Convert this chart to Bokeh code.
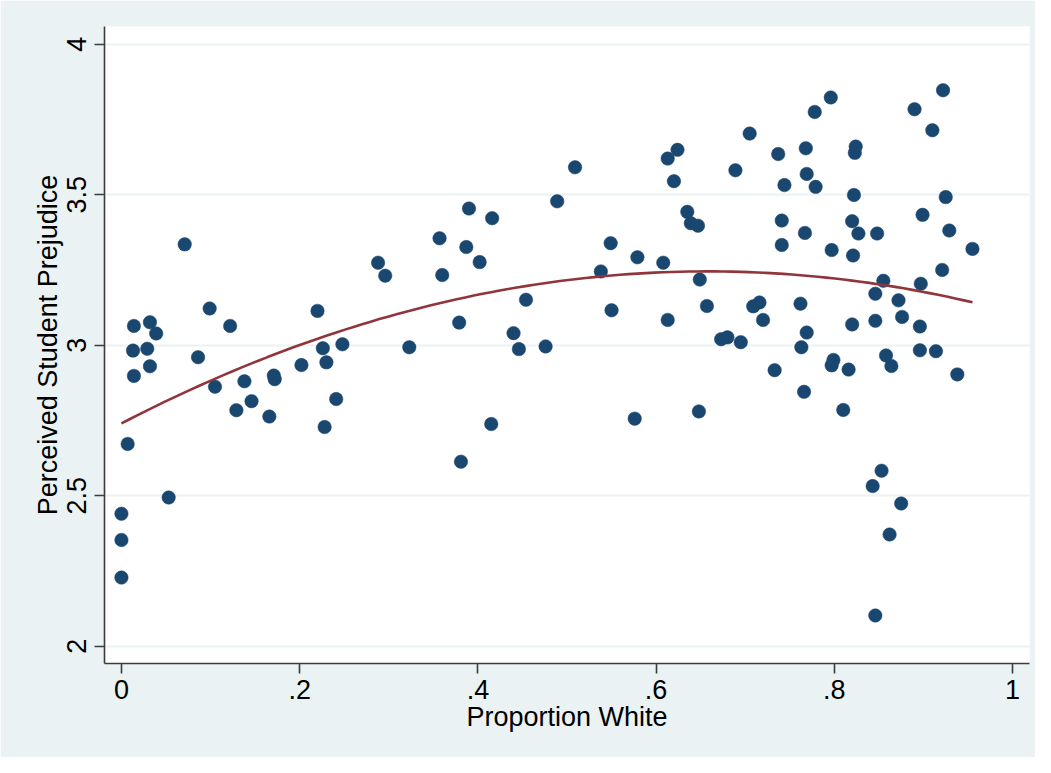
import numpy as np
from bokeh.plotting import figure
from bokeh.models import FixedTicker, Range1d
from bokeh.embed import file_html
from bokeh.resources import INLINE

# Data
prop_white = [
    0.000, 0.000, 0.000, 0.007, 0.013, 0.014, 0.014, 0.029, 0.032, 0.032,
    0.039, 0.053, 0.071, 0.086, 0.099, 0.105, 0.122, 0.129, 0.138, 0.146,
    0.166, 0.171, 0.172, 0.202, 0.220, 0.226, 0.230, 0.228, 0.241, 0.248,
    0.288, 0.296, 0.323, 0.357, 0.360, 0.379, 0.381, 0.387, 0.390, 0.402,
    0.416, 0.415, 0.440, 0.446, 0.454, 0.476, 0.489, 0.509, 0.538, 0.549,
    0.550, 0.576, 0.579, 0.608, 0.613, 0.613, 0.624, 0.620, 0.635, 0.639,
    0.647, 0.649, 0.648, 0.657, 0.673, 0.680, 0.689, 0.695, 0.705, 0.709,
    0.716, 0.720, 0.733, 0.737, 0.744, 0.741, 0.741, 0.762, 0.763, 0.768,
    0.767, 0.769, 0.769, 0.766, 0.778, 0.779, 0.796, 0.797, 0.799, 0.797,
    0.810, 0.816, 0.820, 0.821, 0.820, 0.822, 0.823, 0.824, 0.827, 0.843,
    0.846, 0.846, 0.846, 0.848, 0.853, 0.855, 0.858, 0.862, 0.864, 0.872,
    0.875, 0.876, 0.890, 0.897, 0.896, 0.896, 0.899, 0.910, 0.914, 0.922,
    0.921, 0.925, 0.929, 0.938, 0.955,
]
prejudice = [
    2.440, 2.353, 2.228, 2.672, 2.982, 2.898, 3.064, 2.988, 3.076, 2.930,
    3.039, 2.494, 3.335, 2.960, 3.122, 2.862, 3.064, 2.784, 2.880, 2.814,
    2.763, 2.899, 2.887, 2.934, 3.114, 2.990, 2.943, 2.728, 2.821, 3.003,
    3.274, 3.231, 2.993, 3.355, 3.233, 3.075, 2.613, 3.326, 3.454, 3.276,
    3.422, 2.738, 3.040, 2.987, 3.151, 2.996, 3.478, 3.591, 3.245, 3.339,
    3.116, 2.756, 3.292, 3.274, 3.084, 3.620, 3.649, 3.545, 3.443, 3.405,
    3.397, 3.218, 2.780, 3.130, 3.020, 3.026, 3.581, 3.010, 3.703, 3.129,
    3.142, 3.084, 2.917, 3.635, 3.532, 3.414, 3.333, 3.138, 2.993, 3.654,
    3.373, 3.569, 3.042, 2.845, 3.775, 3.526, 3.823, 3.316, 2.951, 2.933,
    2.785, 2.919, 3.412, 3.298, 3.069, 3.499, 3.639, 3.660, 3.371, 2.532,
    2.102, 3.171, 3.081, 3.371, 2.583, 3.214, 2.966, 2.371, 2.931, 3.149,
    2.474, 3.094, 3.784, 3.204, 3.062, 2.983, 3.433, 3.714, 2.980, 3.847,
    3.250, 3.492, 3.381, 2.903, 3.320,
]
x_ticks = [0, 0.2, 0.4, 0.6, 0.8, 1.0]
x_tick_labels = ["0", ".2", ".4", ".6", ".8", "1"]
y_ticks = [2, 2.5, 3, 3.5, 4]
y_tick_labels = ["2", "2.5", "3", "3.5", "4"]

# Quadratic prediction (qfit) computed from the data
coef = np.polyfit(prop_white, prejudice, 2)
fit_x = np.linspace(min(prop_white), max(prop_white), 100)
fit_y = np.polyval(coef, fit_x)

BG = "#EAF2F3"
FONT = "Liberation Sans"

p = figure(
    width=1035, height=757,
    output_backend="svg", toolbar_location=None,
    x_range=Range1d(-0.019, 1.019), y_range=Range1d(1.9425, 4.0588),
    min_border_left=104, min_border_right=6,
    min_border_top=26, min_border_bottom=94,
)
p.background_fill_color = "white"
p.border_fill_color = BG
p.outline_line_color = None

p.scatter(prop_white, prejudice, size=13.5, fill_color="#1a476f",
          line_color="#1a476f", line_width=0.5)
p.line(fit_x, fit_y, line_color="#90353b", line_width=2.6)

# grid
p.xgrid.grid_line_color = None
p.ygrid.grid_line_color = BG
p.ygrid.grid_line_width = 2
p.ygrid.ticker = FixedTicker(ticks=y_ticks)

# x axis
xa = p.xaxis[0]
xa.ticker = FixedTicker(ticks=x_ticks)
xa.major_label_overrides = {t: l for t, l in zip(x_ticks, x_tick_labels)}
xa.axis_label = "Proportion White"
xa.axis_label_text_font = FONT
xa.axis_label_text_font_size = "27px"
xa.axis_label_text_font_style = "normal"
xa.axis_label_text_color = "black"
xa.axis_label_standoff = 0
xa.major_label_text_font = FONT
xa.major_label_text_font_size = "27px"
xa.major_label_text_color = "black"
xa.major_label_standoff = 6

# y axis
ya = p.yaxis[0]
ya.ticker = FixedTicker(ticks=y_ticks)
ya.major_label_overrides = {t: l for t, l in zip(y_ticks, y_tick_labels)}
ya.major_label_orientation = "vertical"
ya.axis_label = "Perceived Student Prejudice"
ya.axis_label_text_font = FONT
ya.axis_label_text_font_size = "27px"
ya.axis_label_text_font_style = "normal"
ya.axis_label_text_color = "black"
ya.axis_label_standoff = 2
ya.major_label_text_font = FONT
ya.major_label_text_font_size = "27px"
ya.major_label_text_color = "black"
ya.major_label_standoff = 8

for ax in (xa, ya):
    ax.axis_line_color = "#3c3c3c"
    ax.axis_line_width = 1.6
    ax.major_tick_line_color = "#3c3c3c"
    ax.major_tick_line_width = 1.6
    ax.major_tick_out = 10
    ax.major_tick_in = 0
    ax.minor_tick_line_color = None

open("out.html", "w").write(file_html(p, INLINE))
